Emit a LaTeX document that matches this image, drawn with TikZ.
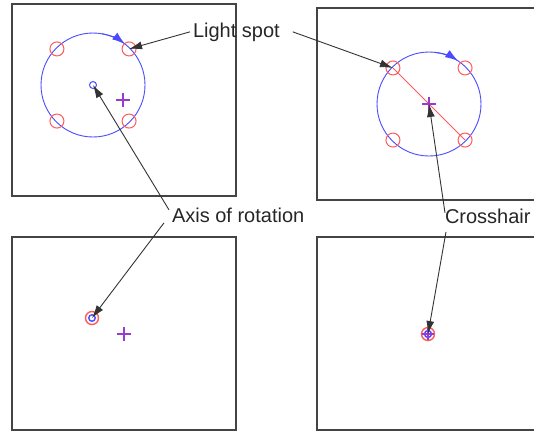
\documentclass[tikz,border=0pt]{standalone}
\usepackage{fontspec}
\setmainfont{Liberation Sans}
\usetikzlibrary{arrows.meta,calc}
\definecolor{redc}{HTML}{FF5A5A}
\definecolor{bluec}{HTML}{4A4AFF}
\definecolor{purc}{HTML}{9A3AD0}
\definecolor{boxc}{HTML}{444444}
\definecolor{leadc}{HTML}{333333}
\tikzset{
  panel/.style={draw=boxc, line width=1.4pt},
  spot/.style={circle, draw=redc, line width=1pt, minimum size=14pt, inner sep=0pt},
  axisdot/.style={circle, draw=bluec, line width=1pt, minimum size=7pt, inner sep=0pt},
  orbit/.style={draw=bluec, line width=0.9pt},
  label/.style={inner sep=0pt, outer sep=3pt, font=\fontsize{20}{24}\selectfont, text=black!85},
  leader/.style={draw=leadc, line width=0.9pt, -{Latex[length=13pt,width=8pt]}},
  spin/.style={draw=bluec, line width=0.9pt, -{Latex[length=13pt,width=8.5pt]}},
  crossmark/.style={draw=purc, line width=1.1pt}
}
\newcommand{\crossat}[2]{\draw[crossmark] ($(#1)+(-#2,0)$) -- ($(#1)+(#2,0)$) ($(#1)+(0,-#2)$) -- ($(#1)+(0,#2)$);}
\begin{document}
\begin{tikzpicture}[x=1pt,y=1pt]
\useasboundingbox (0,0) rectangle (534,-432);
\clip (0,0) rectangle (534,-432);
% panels
\draw[panel] (12,-4) rectangle (236,-196);
\draw[panel] (317,-8) rectangle (545,-200);
\draw[panel] (12,-237) rectangle (236,-430);
\draw[panel] (317,-237) rectangle (545,-430);

% top-left panel
\coordinate (tlc) at (93,-85);
\draw[orbit] (tlc) circle (52);
\node[axisdot] (tlaxis) at (tlc) {};
\node[spot] (tl1) at ($(tlc)+(135:51)$) {};
\node[spot] (tl2) at ($(tlc)+(45:51)$) {};
\node[spot] (tl3) at ($(tlc)+(225:51)$) {};
\node[spot] (tl4) at ($(tlc)+(315:51)$) {};
\draw[spin] ($(tlc)+(80:52)$) arc (80:52:52);
\coordinate (tlx) at (123,-100);
\crossat{tlx}{7}

% top-right panel
\coordinate (trc) at (429,-104);
\draw[orbit] (trc) circle (52);
\node[spot] (tr1) at ($(trc)+(135:51)$) {};
\node[spot] (tr2) at ($(trc)+(45:51)$) {};
\node[spot] (tr3) at ($(trc)+(225:51)$) {};
\node[spot] (tr4) at ($(trc)+(315:51)$) {};
\draw[redc, line width=1pt] (tr1.center) -- (tr4.center);
\draw[spin] ($(trc)+(84:52)$) arc (84:56:52);
\crossat{trc}{7}

% bottom-left panel
\node[spot, line width=1.4pt, minimum size=13pt] (bl) at (92,-318) {};
\node[axisdot, line width=1.4pt, minimum size=6.5pt] (blaxis) at (92,-318) {};
\coordinate (blx) at (124,-334);
\crossat{blx}{7}

% bottom-right panel
\node[spot, line width=1.4pt, minimum size=13pt] (br) at (428,-334) {};
\node[axisdot, line width=1.4pt, minimum size=7pt] (braxis) at (428,-334) {};
\coordinate (brx) at (428,-334);
\crossat{brx}{6}

% labels
\node[label, anchor=base west] (light) at (190,-37) {Light spot};
\node[label, anchor=base west] (axis) at (169,-222) {Axis of rotation};
\node[label, anchor=base west] (cross) at (442,-223) {Crosshair};

% leaders
\draw[leader] (light.west) -- (tl2.center);
\draw[leader] ([xshift=10pt]light.east) -- (tr1.center);
\draw[leader] ([shift={(0,5)}]axis.west) -- (tlaxis.center);
\draw[leader] ([shift={(-5,-8)}]axis.west) -- (bl.center);
\draw[leader] ([shift={(3,3)}]cross.west) -- (trc);
\draw[leader] ([shift={(4,-16)}]cross.west) -- (br.center);
\end{tikzpicture}
\end{document}
